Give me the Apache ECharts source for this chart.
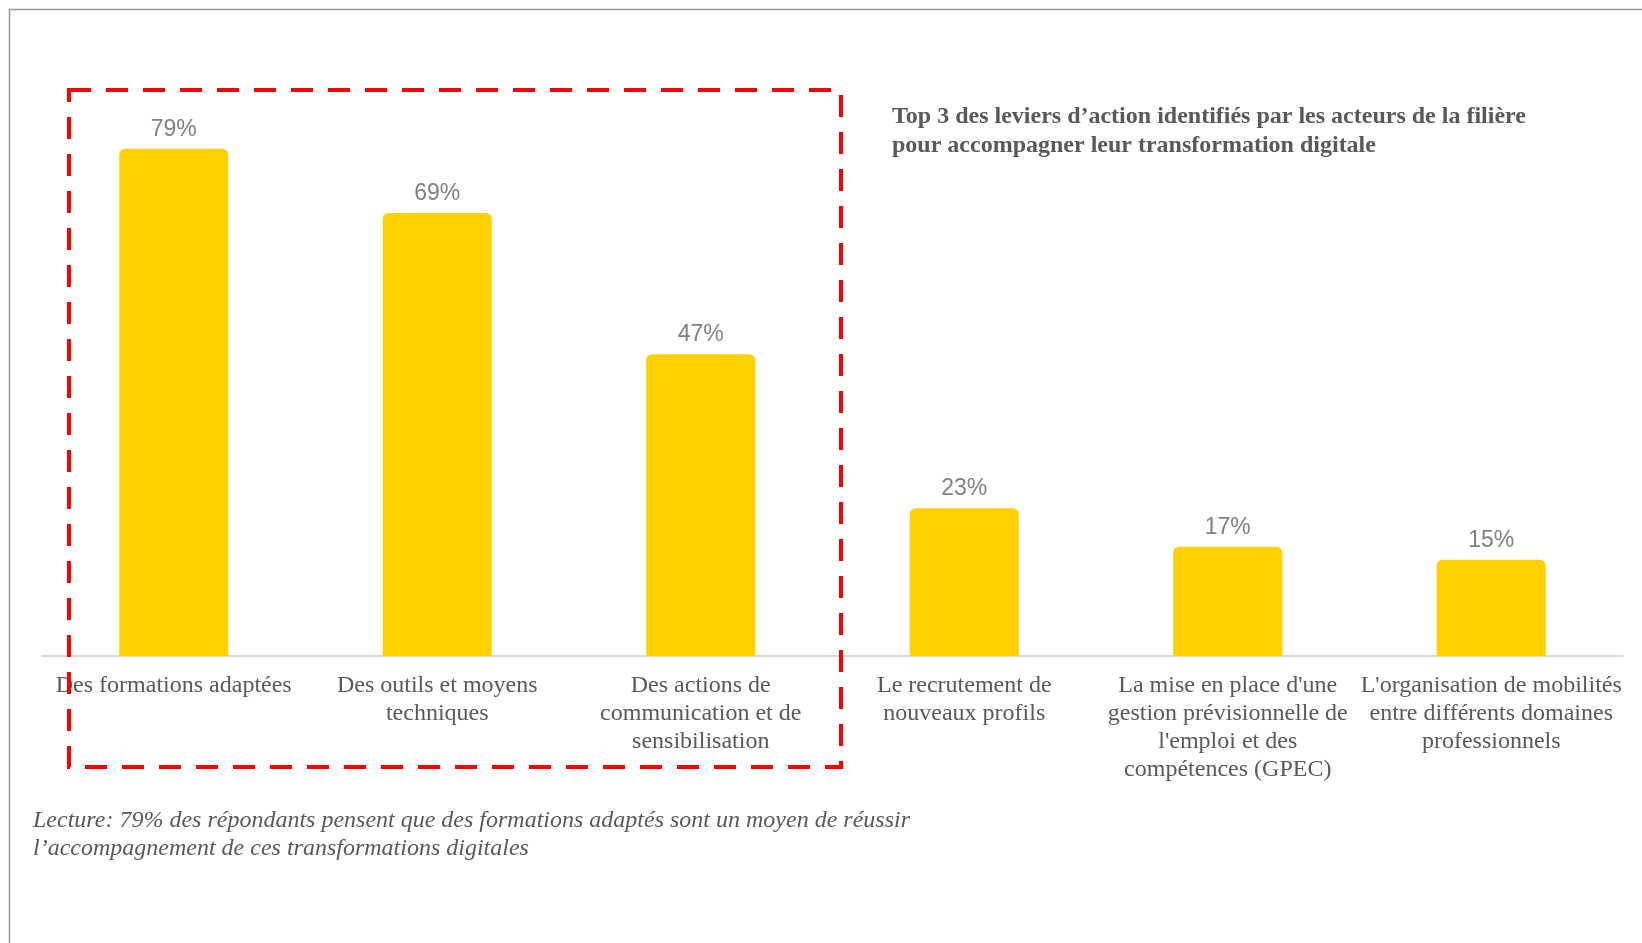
<!DOCTYPE html>
<html>
<head>
<meta charset="utf-8">
<script src="https://cdn.jsdelivr.net/npm/echarts@6/dist/echarts.min.js"></script>
<style>
html,body{margin:0;padding:0;background:#fff;}
#chart{width:1642px;height:943px;}
</style>
</head>
<body>
<div id="chart"></div>
<script>
const categories = [
  "Des formations adaptées",
  "Des outils et moyens\ntechniques",
  "Des actions de\ncommunication et de\nsensibilisation",
  "Le recrutement de\nnouveaux profils",
  "La mise en place d'une\ngestion prévisionnelle de\nl'emploi et des\ncompétences (GPEC)",
  "L'organisation de mobilités\nentre différents domaines\nprofessionnels"
];
const values = [79, 69, 47, 23, 17, 15];
const titleText = "Top 3 des leviers d\u2019action identifiés par les acteurs de la filière\npour accompagner leur transformation digitale";
const noteText = "Lecture: 79% des répondants pensent que des formations adaptés sont un moyen de réussir\nl\u2019accompagnement de ces transformations digitales";

const chart = echarts.init(document.getElementById('chart'));
chart.setOption({
  animation: false,
  backgroundColor: '#fff',
  title: [
    {
      text: titleText,
      left: 887, top: 97,
      textStyle: {fontFamily: 'Liberation Serif', fontWeight: 'bold', fontSize: 24, lineHeight: 29, color: '#595959'}
    },
    {
      text: noteText,
      left: 28, top: 802,
      textStyle: {fontFamily: 'Liberation Serif', fontStyle: 'italic', fontWeight: 'normal', fontSize: 24, lineHeight: 28, color: '#595959'}
    }
  ],
  grid: {left: 42, right: 19, top: 14, height: 642, containLabel: false},
  xAxis: {
    type: 'category',
    data: categories,
    axisLine: {lineStyle: {color: '#D9D9D9', width: 2}},
    axisTick: {show: false},
    axisLabel: {
      interval: 0, margin: 16,
      fontFamily: 'Liberation Serif', fontSize: 24, lineHeight: 28, color: '#595959'
    }
  },
  yAxis: {
    type: 'value', min: 0, max: 100,
    show: false,
    splitLine: {show: false}
  },
  series: [{
    type: 'bar',
    data: values,
    barWidth: 109,
    itemStyle: {color: '#FFD100', borderRadius: [6, 6, 0, 0]},
    label: {
      show: true, position: 'top', distance: 8,
      formatter: '{c}%',
      fontFamily: 'Liberation Sans', fontSize: 23, color: '#808080'
    },
    z: 1
  }],
  graphic: [
    {type: 'polyline', shape: {points: [[9.5, 943], [9.5, 9.5], [1642, 9.5]]}, style: {stroke: '#999999', lineWidth: 1.5, fill: null}, silent: true},
    {type: 'rect', shape: {x: 69, y: 90, width: 772, height: 677}, style: {stroke: '#FF0000', lineWidth: 4, fill: null, lineDash: [22, 15]}, z: 100, silent: true}
  ]
});
</script>
</body>
</html>
